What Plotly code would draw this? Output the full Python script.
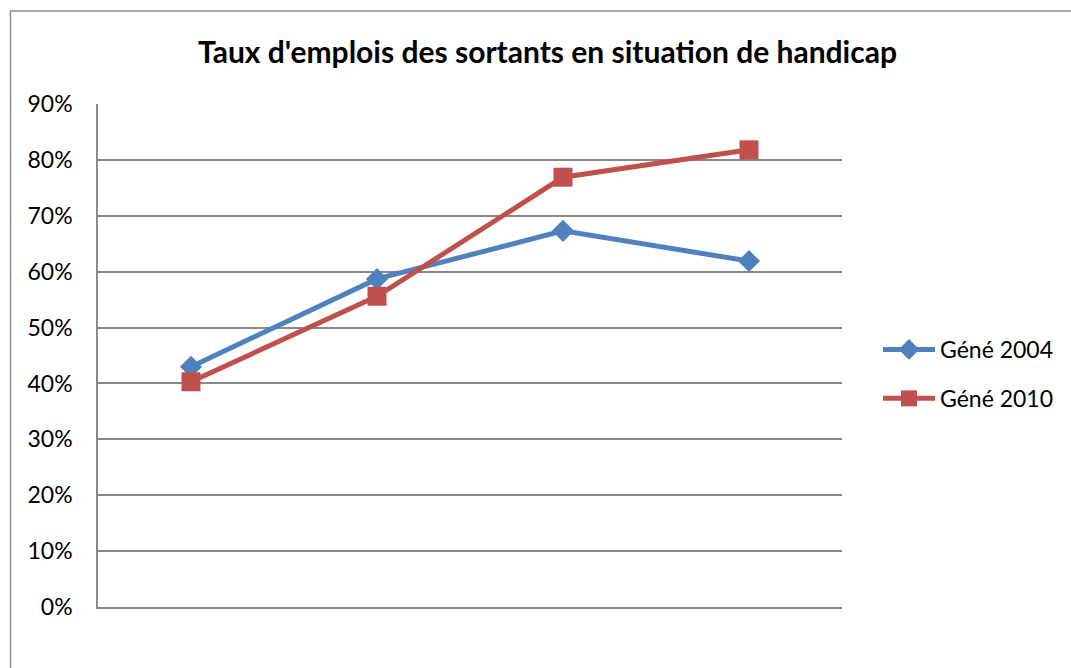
import plotly.graph_objects as go

# Survey waves (no labels shown on the horizontal axis)
waves = [1, 2, 3, 4]

# Employment rates of leavers with a disability, per generation
gene_2004 = [0.430, 0.587, 0.673, 0.619]
gene_2010 = [0.403, 0.556, 0.769, 0.818]

y_ticks = [0.0, 0.1, 0.2, 0.3, 0.4, 0.5, 0.6, 0.7, 0.8, 0.9]

BLUE = "#4F81BD"
RED = "#C0504D"
GRID = "#888888"
FONT = "Lato"

fig = go.Figure()
fig.add_trace(go.Scatter(
    x=waves, y=gene_2004, name="Géné 2004", mode="lines+markers",
    line=dict(color=BLUE, width=5),
    marker=dict(symbol="diamond", size=17, color=BLUE),
    legendgroup="a",
))
fig.add_trace(go.Scatter(
    x=waves, y=gene_2010, name="Géné 2010", mode="lines+markers",
    line=dict(color=RED, width=5),
    marker=dict(symbol="square", size=19, color=RED),
    legendgroup="b",
))

fig.update_layout(
    width=1071, height=668,
    margin=dict(l=98, r=229, t=104, b=61),
    paper_bgcolor="white", plot_bgcolor="white",
    font=dict(family=FONT, size=22, color="#000000"),
    title=dict(
        text="<b>Taux d'emplois des sortants en situation de handicap</b>",
        x=(197 + 898) / 2 / 1071, xanchor="center",
        y=1 - 52 / 668, yanchor="middle",
        font=dict(family=FONT, size=30, color="#000000"),
    ),
    xaxis=dict(
        range=[0.5, 4.5], showticklabels=False, ticks="",
        showgrid=False, zeroline=False,
        showline=True, linecolor=GRID, linewidth=1.5,
    ),
    yaxis=dict(
        range=[0, 0.9], tickvals=y_ticks, tickformat=".0%",
        showgrid=True, gridcolor=GRID, gridwidth=1.5,
        zeroline=False, showline=True, linecolor=GRID, linewidth=1.5,
        ticks="", ticklabelstandoff=19,
        tickfont=dict(family=FONT, size=23),
    ),
    legend=dict(
        x=(878 - 98) / 744, y=(607 - 374) / 503,
        xanchor="left", yanchor="middle",
        font=dict(family=FONT, size=23),
        itemwidth=52,
        traceorder="grouped", tracegroupgap=16,
        bgcolor="rgba(0,0,0,0)",
    ),
    shapes=[dict(
        type="rect", xref="paper", yref="paper",
        x0=(10.5 - 98) / 744, y0=-0.5, x1=1.6, y1=(607 - 11) / 503,
        line=dict(color="#8C8C8C", width=1.5), fillcolor="rgba(0,0,0,0)",
        layer="below",
    )],
)

fig.write_html("out.html")
